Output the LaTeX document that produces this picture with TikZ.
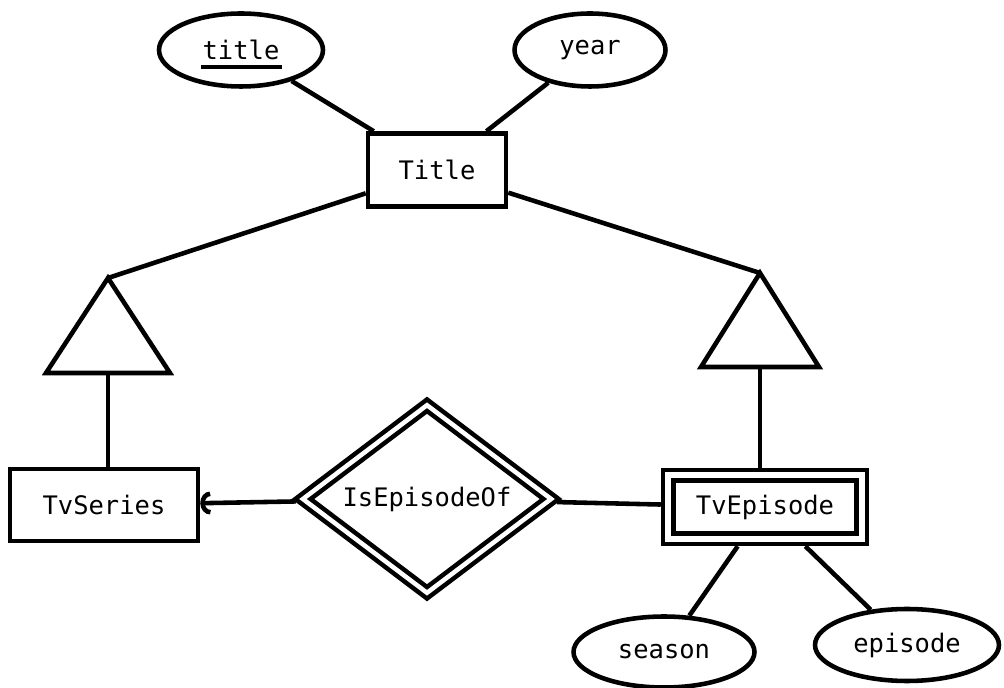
\documentclass[tikz,border=0pt]{standalone}
\usepackage{fontspec}
\usepackage{tikz}
\usetikzlibrary{arrows.meta,positioning,shapes.geometric,calc}
\newfontfamily\ermono{DejaVu Sans Mono}

\begin{document}
\begin{tikzpicture}[x=0.02cm,y=-0.02cm,line width=2.6pt,
    font=\ermono\fontsize{14.5}{16}\selectfont,
    entity/.style={draw,rectangle,inner sep=0pt},
    weakent/.style={entity,double,double distance=0.12cm,outer sep=0.15cm},
    attr/.style={draw,ellipse,inner sep=0pt,minimum height=1.46cm},
    weakrel/.style={draw,diamond,inner sep=0pt,double,double distance=0.09cm,outer sep=0.14cm},
    isatri/.style={line join=miter}]
    \useasboundingbox (0,0) rectangle (1004,688);
    \node[entity,minimum width=2.76cm,minimum height=1.46cm] (title) at (437,170) {Title};
    \node[attr,minimum width=3.28cm] (tkey) at (241,50) {title};
    \node[attr,minimum width=3.02cm] (tyear) at (590,50) {year};
    \draw ([xshift=-0.8cm,yshift=-0.34cm]tkey.center) -- ++(81,0);
    \draw (tkey) -- (title);
    \draw (tyear) -- (title);
    \coordinate (isaL) at (108,278);
    \coordinate (isaLb) at (108,373);
    \coordinate (isaR) at (760,273);
    \coordinate (isaRb) at (760,367);
    \draw[isatri] (isaL) -- (46,373) -- (170,373) -- cycle;
    \draw[isatri] (isaR) -- (701,367) -- (819,367) -- cycle;
    \draw (title) -- (isaL);
    \draw (title) -- (isaR);
    \node[entity,minimum width=3.76cm,minimum height=1.44cm] (tvser) at (104,505) {TvSeries};
    \node[weakent,minimum width=3.87cm,minimum height=1.27cm] (tvep) at (765,507) {TvEpisode};
    \node[weakrel,minimum width=5.08cm,minimum height=2.96cm] (isep) at (427,499) {IsEpisodeOf};
    \draw (isaLb) -- (isaLb |- tvser.north);
    \draw (isaRb) -- (isaRb |- tvep.north);
    \draw[-{Arc Barb[length=0.2cm,width=0.46cm]}] (isep) -- (tvser);
    \draw (isep) -- (tvep);
    \node[attr,minimum width=3.62cm,minimum height=1.42cm] (tseason) at (664,652) {season};
    \node[attr,minimum width=3.68cm,minimum height=1.44cm] (tepis) at (907,645) {episode};
    \draw (tvep) -- (tseason);
    \draw (tvep) -- (tepis);
\end{tikzpicture}
\end{document}
